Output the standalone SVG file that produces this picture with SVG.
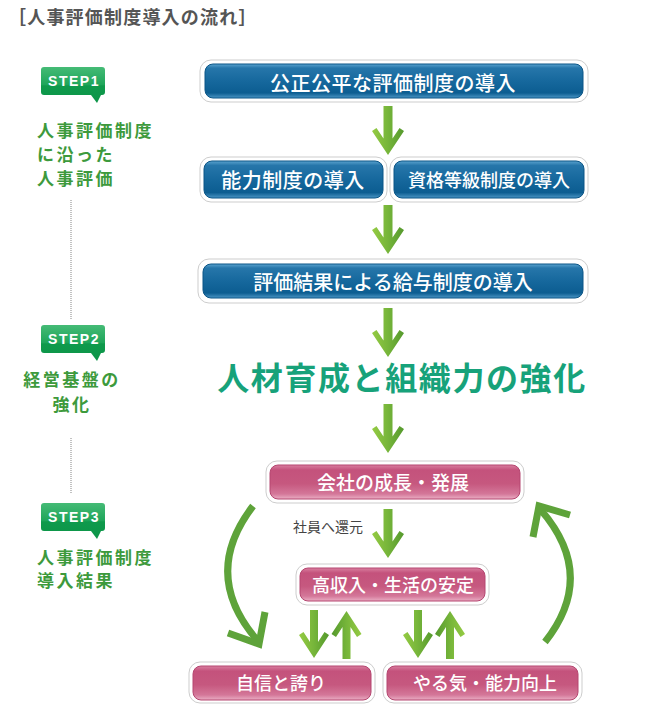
<svg xmlns="http://www.w3.org/2000/svg" width="656" height="715" viewBox="0 0 656 715">
<defs>
<linearGradient id="gBlue" x1="0" y1="0" x2="0" y2="1">
<stop offset="0" stop-color="#5aa3cf"/>
<stop offset="0.12" stop-color="#2676aa"/>
<stop offset="0.5" stop-color="#16689d"/>
<stop offset="0.85" stop-color="#0c5d91"/>
<stop offset="1" stop-color="#4a95c4"/>
</linearGradient>
<linearGradient id="gPink" x1="0" y1="0" x2="0" y2="1">
<stop offset="0" stop-color="#d97fa0"/>
<stop offset="0.15" stop-color="#c4527c"/>
<stop offset="0.55" stop-color="#c6587f"/>
<stop offset="0.85" stop-color="#d47799"/>
<stop offset="1" stop-color="#eaaec4"/>
</linearGradient>
<linearGradient id="gStep" x1="0" y1="0" x2="0" y2="1">
<stop offset="0" stop-color="#45bb76"/>
<stop offset="0.5" stop-color="#1ea55a"/>
<stop offset="0.52" stop-color="#0f9a4c"/>
<stop offset="1" stop-color="#0c9448"/>
</linearGradient>
<linearGradient id="gArrow" x1="0" y1="0" x2="1" y2="0">
<stop offset="0" stop-color="#95cb43"/>
<stop offset="0.5" stop-color="#76b53a"/>
<stop offset="1" stop-color="#55992d"/>
</linearGradient>
<path id="arrDown" d="M0,0 L-16,-24 L-11.5,-27 L-4.5,-16.5 L-4.5,-49 L4.5,-49 L4.5,-16.5 L11.5,-27 L16,-24 Z"/>
<path id="arrSmall" d="M0,0 L-15,-23 L-10.5,-26 L-4,-16 L-4,-48 L4,-48 L4,-16 L10.5,-26 L15,-23 Z"/>
</defs>
<style>
.frame{fill:#fff;stroke:#cdcdcd;stroke-width:1}
.blue{fill:url(#gBlue);stroke:#0b5586;stroke-width:1}
.pink{fill:url(#gPink);stroke:#b54670;stroke-width:1}
.bt{font-family:"Noto Sans CJK JP",sans-serif;font-weight:500;fill:#fff;text-anchor:middle}
.step{fill:url(#gStep)}
.stept{font-family:"Liberation Sans",Arial,sans-serif;font-weight:bold;font-size:14px;fill:#fff;text-anchor:middle;letter-spacing:1.5px}
.lab{font-family:"Noto Sans CJK JP",sans-serif;font-weight:bold;font-size:17px;fill:#3d9a3c;letter-spacing:2.5px}
.dot{stroke:#9a9a9a;stroke-width:1.2;stroke-dasharray:1 1;fill:none}
.arr{fill:url(#gArrow)}
.curve{fill:none;stroke:#5ea33a;stroke-width:7;stroke-linejoin:miter}
</style>

<text id="title" x="8" y="24" font-family="'Noto Sans CJK JP',sans-serif" font-weight="bold" font-size="18" fill="#555" letter-spacing="1.2">［人事評価制度導入の流れ］</text>

<g id="step1">
<path class="step" d="M44,67 H102 Q105,67 105,70 V92 Q105,95 102,95 H101 L97,103 L91,95 H44 Q41,95 41,92 V70 Q41,67 44,67 Z"/>
<text class="stept" x="74" y="86">STEP1</text>
<text class="lab" x="37" y="137">人事評価制度</text>
<text class="lab" x="37" y="161">に沿った</text>
<text class="lab" x="37" y="185">人事評価</text>
</g>
<g id="step2">
<path class="step" d="M44,325 H102 Q105,325 105,328 V350 Q105,353 102,353 H101 L97,361 L91,353 H44 Q41,353 41,350 V328 Q41,325 44,325 Z"/>
<text class="stept" x="74" y="344">STEP2</text>
<text class="lab" x="72" y="386" text-anchor="middle">経営基盤の</text>
<text class="lab" x="72" y="411" text-anchor="middle">強化</text>
</g>
<g id="step3">
<path class="step" d="M44,503 H102 Q105,503 105,506 V528 Q105,531 102,531 H101 L97,539 L91,531 H44 Q41,531 41,528 V506 Q41,503 44,503 Z"/>
<text class="stept" x="74" y="522">STEP3</text>
<text class="lab" x="37" y="564">人事評価制度</text>
<text class="lab" x="37" y="587">導入結果</text>
</g>
<g id="dividers">
<line class="dot" x1="71" y1="200" x2="71" y2="320"/>
<line class="dot" x1="71" y1="438" x2="71" y2="493"/>
</g>

<g id="connectors">
<use href="#arrDown" class="arr" x="388" y="155"/>
<use href="#arrDown" class="arr" x="388" y="254"/>
<use href="#arrDown" class="arr" x="388" y="357"/>
<use href="#arrDown" class="arr" x="388" y="453"/>
<use href="#arrDown" class="arr" x="388" y="558"/>
<use href="#arrSmall" class="arr" x="314" y="658"/>
<use href="#arrSmall" class="arr" transform="translate(346.5,611) rotate(180)"/>
<use href="#arrSmall" class="arr" x="418" y="658"/>
<use href="#arrSmall" class="arr" transform="translate(450,611) rotate(180)"/>
<path class="curve" d="M253,506 Q200,575 258,641"/>
<polyline class="curve" points="228,633 259,644 265,612"/>
<path class="curve" d="M545,642 Q598,575 540,509"/>
<polyline class="curve" points="533,537 539,506 570,515"/>
<text x="293" y="532" font-family="'Noto Sans CJK JP',sans-serif" font-size="14" fill="#444">社員へ還元</text>
</g>

<g id="n1">
<rect class="frame" x="200" y="60" width="388" height="42" rx="11"/>
<rect class="blue" x="205" y="64" width="378" height="34" rx="8"/>
<text class="bt" x="393" y="90.5" font-size="20" letter-spacing="0.5">公正公平な評価制度の導入</text>
</g>
<g id="n2">
<rect class="frame" x="200" y="157" width="187" height="45" rx="11"/>
<rect class="blue" x="204" y="161" width="179" height="37" rx="8"/>
<text class="bt" x="293" y="187.5" font-size="20" letter-spacing="0.5">能力制度の導入</text>
</g>
<g id="n3">
<rect class="frame" x="390" y="157" width="198" height="45" rx="11"/>
<rect class="blue" x="394" y="161" width="190" height="37" rx="8"/>
<text class="bt" x="489" y="186.5" font-size="18">資格等級制度の導入</text>
</g>
<g id="n4">
<rect class="frame" x="198" y="259" width="390" height="44" rx="11"/>
<rect class="blue" x="203" y="264" width="380" height="34" rx="8"/>
<text class="bt" x="393" y="289.5" font-size="20">評価結果による給与制度の導入</text>
</g>
<g id="n5">
<text x="402" y="390" font-family="'Noto Sans CJK JP',sans-serif" font-weight="bold" font-size="32" fill="#17a27a" text-anchor="middle" letter-spacing="1.6">人材育成と組織力の強化</text>
</g>
<g id="n6">
<rect class="frame" x="266" y="461" width="258" height="42" rx="11"/>
<rect class="pink" x="270" y="465" width="250" height="34" rx="8"/>
<text class="bt" x="393" y="490" font-size="19">会社の成長・発展</text>
</g>
<g id="n7">
<rect class="frame" x="296" y="564" width="193" height="41" rx="11"/>
<rect class="pink" x="300" y="568" width="185" height="33" rx="8"/>
<text class="bt" x="393" y="592" font-size="18">高収入・生活の安定</text>
</g>
<g id="n8">
<rect class="frame" x="189" y="662" width="186" height="41" rx="11"/>
<rect class="pink" x="193" y="666" width="178" height="34" rx="8"/>
<text class="bt" x="281" y="690" font-size="18">自信と誇り</text>
</g>
<g id="n9">
<rect class="frame" x="383" y="662" width="199" height="41" rx="11"/>
<rect class="pink" x="387" y="666" width="191" height="34" rx="8"/>
<text class="bt" x="485" y="690" font-size="18">やる気・能力向上</text>
</g>
</svg>
